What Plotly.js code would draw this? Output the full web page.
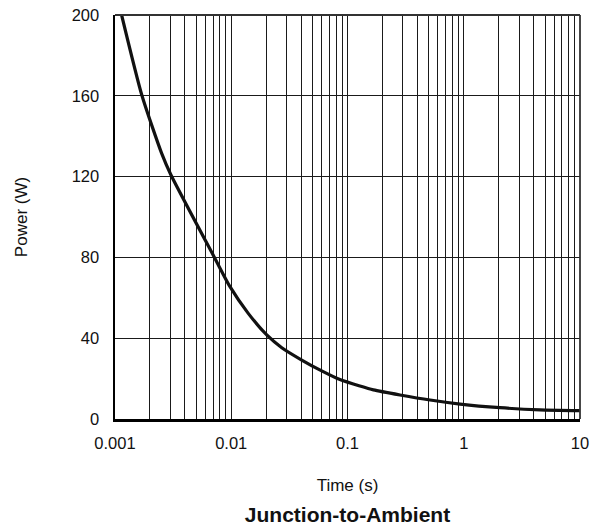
<!DOCTYPE html>
<html>
<head>
<meta charset="utf-8">
<script src="https://cdn.plot.ly/plotly-3.0.1.min.js"></script>
<style>
  html, body { margin: 0; padding: 0; background: #fff; }
  #chart { width: 600px; height: 529px; }
</style>
</head>
<body>
<div id="chart"></div>
<script>
// Single-pulse power vs. pulse duration, junction-to-ambient
const timeS = [0.00114, 0.0017, 0.00252, 0.00303, 0.00724, 0.00975, 0.014, 0.0202, 0.0272, 0.0404, 0.060, 0.086, 0.128, 0.167, 0.283, 0.513, 0.93, 2.05, 4.53, 10];
const powerW = [200, 160.4, 131.5, 120.8, 79.5, 65.5, 52.3, 41.6, 35.3, 29.2, 23.8, 19.5, 16.3, 14.4, 11.9, 9.4, 7.4, 5.6, 4.5, 4.1];

const xTickVals = [0.001, 0.01, 0.1, 1, 10];
const xTickText = ['0.001', '0.01', '0.1', '1', '10'];
const yTickVals = [0, 40, 80, 120, 160, 200];

const font = 'Liberation Sans, Arial, Helvetica, sans-serif';
const gridColor = '#1a1a1a';

const trace = {
  x: timeS,
  y: powerW,
  type: 'scatter',
  mode: 'lines',
  line: { color: '#111', width: 3.2, shape: 'spline', smoothing: 0.6 },
  hoverinfo: 'x+y'
};

const layout = {
  width: 600,
  height: 529,
  margin: { l: 115, r: 20, t: 15, b: 110 },
  paper_bgcolor: '#fff',
  plot_bgcolor: '#fff',
  showlegend: false,
  font: { family: font, size: 16.5, color: '#111' },
  title: {
    text: '<b>Junction-to-Ambient</b>',
    font: { family: font, size: 21, color: '#111' },
    x: 0.5, xref: 'paper', xanchor: 'center',
    y: 0.027, yref: 'container', yanchor: 'middle'
  },
  xaxis: {
    type: 'log',
    range: [-3, 1],
    tickvals: xTickVals,
    ticktext: xTickText,
    ticks: '',
    ticklabelstandoff: 8,
    tickfont: { family: font, size: 16.5, color: '#111' },
    showgrid: true,
    gridcolor: gridColor,
    gridwidth: 1,
    minor: { dtick: 'D1', showgrid: true, gridcolor: gridColor, gridwidth: 1, ticks: '' },
    showline: true,
    linecolor: '#000',
    linewidth: 2.5,
    zeroline: false,
    fixedrange: true,
    automargin: false,
    title: { text: 'Time (s)', font: { family: font, size: 17, color: '#111' }, standoff: 28 }
  },
  yaxis: {
    range: [0, 200],
    tickvals: yTickVals,
    ticks: '',
    ticklabelstandoff: 10,
    tickfont: { family: font, size: 16.5, color: '#111' },
    showgrid: true,
    gridcolor: gridColor,
    gridwidth: 1,
    showline: true,
    linecolor: '#000',
    linewidth: 2.5,
    zeroline: false,
    fixedrange: true,
    automargin: false,
    title: { text: 'Power (W)', font: { family: font, size: 17, color: '#111' }, standoff: 40 }
  },
  shapes: [
    // top and right frame edges
    { type: 'line', xref: 'paper', yref: 'paper', x0: 0, x1: 1, y0: 1, y1: 1, line: { color: '#333', width: 1.8 } },
    { type: 'line', xref: 'paper', yref: 'paper', x0: 1, x1: 1, y0: 0, y1: 1, line: { color: '#333', width: 1.8 } }
  ]
};

Plotly.newPlot('chart', [trace], layout, { displayModeBar: false, staticPlot: true });
</script>
</body>
</html>
